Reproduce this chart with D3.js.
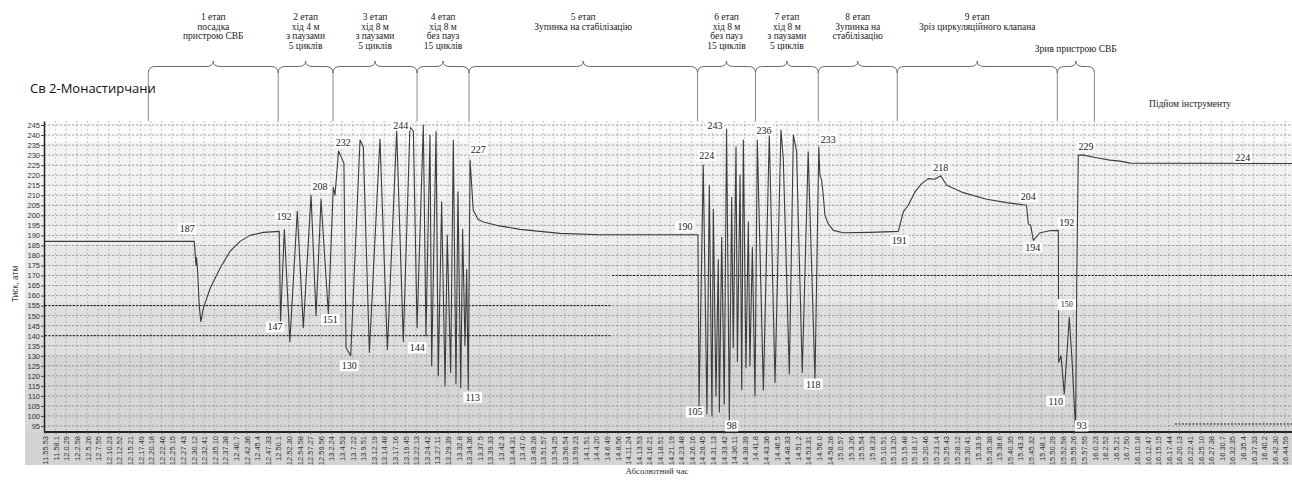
<!DOCTYPE html>
<html>
<head>
<meta charset="utf-8">
<script src="https://cdn.jsdelivr.net/npm/d3@7"></script>
<style>
  body { margin: 0; background: #fff; }
  svg { display: block; }
</style>
</head>
<body>
<svg id="chart" width="1292" height="481"></svg>
<script>
// time labels along the bottom (one per grid column)
const xLabels = [
  "11.55.53","11.58.1","12.0.29","12.2.58","12.5.26","12.7.55","12.10.23","12.12.52","12.15.21","12.17.49",
  "12.20.18","12.22.46","12.25.15","12.27.43","12.30.12","12.32.41","12.35.10","12.37.38","12.40.7","12.42.36",
  "12.45.4","12.47.33","12.50.1","12.52.30","12.54.58","12.57.27","12.59.56","13.2.24","13.4.53","13.7.22",
  "13.9.51","13.12.19","13.14.48","13.17.16","13.19.45","13.22.13","13.24.42","13.27.11","13.29.39","13.32.8",
  "13.34.36","13.37.5","13.39.33","13.42.3","13.44.31","13.47.0","13.49.28","13.51.57","13.54.25","13.56.54",
  "13.59.23","14.1.51","14.4.20","14.6.49","14.8.56","14.11.24","14.13.53","14.16.21","14.18.51","14.21.19",
  "14.23.48","14.26.16","14.28.45","14.31.13","14.33.42","14.36.11","14.38.39","14.41.8","14.43.36","14.46.5",
  "14.48.33","14.51.2","14.53.31","14.56.0","14.58.28","15.0.57","15.3.26","15.5.54","15.8.23","15.10.51",
  "15.13.20","15.15.48","15.18.17","15.20.46","15.23.14","15.25.43","15.28.12","15.30.41","15.33.9","15.35.38",
  "15.38.6","15.40.35","15.43.3","15.45.32","15.48.1","15.50.29","15.52.58","15.55.26","15.57.55","16.0.23",
  "16.2.52","16.5.21","16.7.50","16.10.18","16.12.47","16.15.15","16.17.44","16.20.13","16.22.41","16.25.10",
  "16.27.38","16.30.7","16.32.35","16.35.4","16.37.33","16.40.2","16.42.30","16.44.59"
];
const yTicks = [95,100,105,110,115,120,125,130,135,140,145,150,155,160,165,170,175,180,185,190,195,200,205,210,215,220,225,230,235,240,245];

// pressure trace, [column position, atm], stage by stage
const landing = [[0,187],[14.08,187],[14.25,175],[14.3,179],[14.4,172],[14.55,155],[14.7,147],[14.93,153.5],[15.57,163.5],[16.5,173.5],[17.45,182],[18.4,187],[19.34,190],[20.6,191.5],[22.1,192]];
const stroke4Pause = [[22.22,147],[22.58,193],[23.1,137],[23.8,202],[24.37,144],[25.1,210],[25.57,150],[26.04,208],[26.73,151],[27.2,214],[27.36,210],[27.69,232],[28.2,226]];
const stroke8Pause = [[28.4,134],[28.84,130],[29.72,237.5],[30.03,234],[30.6,131.7],[31.6,238],[32.3,133],[33.18,242],[33.8,137],[34.43,244],[34.75,242],[35.1,144]];
const stroke8NoPause = [[35.69,245],[35.94,140],[36.32,240],[36.48,125],[36.89,241.7],[37.1,120],[37.42,206.7],[37.74,115],[37.95,190],[38.27,121.7],[38.52,237.5],[38.77,116],[38.96,211.7],[39.22,114],[39.4,193],[39.62,135],[39.78,173],[39.93,113],[40.1,227.5]];
const stabilisation = [[40.4,202.5],[40.85,198],[41.35,196.7],[42.6,195],[44.8,193],[48.6,191],[52.36,190.3],[61.6,190.3]];
const stroke8NoPause2 = [[61.7,105],[62.1,225],[62.45,101],[62.67,215],[62.92,100],[63.05,203],[63.3,110],[63.52,178],[63.62,102],[63.84,189],[64.08,106],[64.3,243],[64.56,98],[64.78,209],[64.93,134],[65.19,234],[65.32,127],[65.57,220],[65.73,113],[65.88,237.5],[66.13,124],[66.35,196.7],[66.5,125],[66.73,184],[66.98,110]];
const stroke8Pause2 = [[67.2,237.5],[67.77,113],[68.33,240],[68.87,116.7],[69.43,242.5],[69.65,228],[70.22,121],[70.6,240],[70.9,232],[71.44,121.7],[72.0,231.7],[72.64,118],[73.0,234]];
const stabilisation2 = [[73.1,220],[73.27,217.5],[73.42,210],[73.58,200],[73.87,196],[74.37,192.5],[75.3,191.3],[77.8,191.5],[80.5,192]];
const valveCut = [[80.97,201.7],[81.44,205],[82.08,211.7],[82.7,215.8],[83.33,218.3],[83.96,218],[84.5,219.7],[85.07,215],[86.63,211.3],[88.84,208],[90.73,206.3],[92.6,205],[92.76,195.8],[92.99,195],[93.24,187.5],[93.87,191.3],[94.8,192.3],[95.6,192.5]];
const release = [[95.63,126.7],[95.85,130],[96.16,111],[96.63,149],[96.9,126.7],[97.23,93],[97.33,166],[97.48,230],[97.96,230],[99.21,228.7]];
const hoisting = [[100.47,227.5],[101.4,227],[102.4,226],[117.7,225.8]];

// value call-outs: text, column position, atm
const callouts = [
  ["187",13.42,193.4],["147",21.7,144.4],["192",22.55,199.6],["208",25.94,214.5],["151",26.9,148],
  ["232",28.14,236.3],["130",28.7,125],["244",33.56,245],["144",35.12,134],["113",40.35,109.3],
  ["227",40.88,233],["190",60.38,194.2],["224",62.42,229.7],["243",63.2,245],["105",61.32,102],
  ["98",64.78,95],["236",67.83,242.5],["118",72.48,115.9],["233",73.9,238],["191",80.6,187.4],
  ["218",84.5,223.9],["204",92.76,209.5],["194",93.18,184],["192",96.39,196.3],["110",95.35,107.4],
  ["150",96.39,155.5],["93",97.8,95],["229",98.2,234.2],["224",113,229]
];

// stage brackets
const stageBounds = [9.75, 22.0, 27.17, 35.1, 40.0, 61.56, 67.03, 72.95, 80.4, 95.5, 99.0];
const stageNames = [
  ["1 етап","посадка","пристрою СВБ"],
  ["2 етап","хід 4 м","з паузами","5 циклів"],
  ["3 етап","хід 8 м","з паузами","5 циклів"],
  ["4 етап","хід 8 м","без пауз","15 циклів"],
  ["5 етап","Зупинка на стабілізацію"],
  ["6 етап","хід 8 м","без пауз","15 циклів"],
  ["7 етап","хід 8 м","з паузами","5 циклів"],
  ["8 етап","Зупинка на","стабілізацію"],
  ["9 етап","Зріз циркуляційного клапана"],
  ["Зрив пристрою СВБ"]
];

const svg = d3.select("#chart");
const serif = "'Liberation Serif','Times New Roman',serif";
const sans = "'Liberation Sans',Arial,sans-serif";

const plotTop = 121, plotBottom = 432, plotLeft = 44;
const x = d3.scaleLinear().domain([0, 117]).range([45, 1285.2]);
const y = d3.scaleLinear().domain([92, 247]).range([plotBottom, plotTop]);

// background bands
const defs = svg.append("defs");
const grad = defs.append("linearGradient").attr("id", "bg").attr("x1", 0).attr("y1", 0).attr("x2", 0).attr("y2", 1);
[[0,"#fbfbfb"],[0.07,"#fbfbfb"],[0.07,"#f3f3f3"],[0.25,"#f3f3f3"],[0.25,"#eeeeee"],[0.4,"#eeeeee"],
 [0.4,"#e8e8e8"],[0.585,"#e8e8e8"],[0.585,"#dfdfdf"],[0.755,"#dfdfdf"],[0.755,"#d6d6d6"],[1,"#d6d6d6"]]
  .forEach(s => grad.append("stop").attr("offset", s[0]).attr("stop-color", s[1]));

svg.append("rect").attr("x", 25).attr("y", plotTop).attr("width", 1292 - 25).attr("height", plotBottom - plotTop).attr("fill", "url(#bg)");
svg.append("rect").attr("x", 25).attr("y", plotBottom).attr("width", 1292 - 25).attr("height", 465 - plotBottom).attr("fill", "#d3d3d3");

// grid
const grid = svg.append("g");
grid.selectAll("line.v").data(d3.range(1, xLabels.length)).join("line")
  .attr("x1", d => x(d)).attr("x2", d => x(d)).attr("y1", plotTop).attr("y2", plotBottom)
  .attr("stroke", "#8a8a8a").attr("stroke-width", 0.6).attr("stroke-dasharray", "1.5,2.5");
grid.selectAll("line.h").data(yTicks).join("line")
  .attr("x1", plotLeft).attr("x2", 1292).attr("y1", d => y(d)).attr("y2", d => y(d))
  .attr("stroke", "#6e6e6e").attr("stroke-width", 0.6).attr("stroke-dasharray", "2.5,1.5");

// darker grid pieces left from the stitched source images
const darkGrid = [[155, 0, 53.5], [140, 0, 53.5], [170, 53.5, 117.7], [96, 106.6, 117.7]];
grid.selectAll("line.d").data(darkGrid).join("line")
  .attr("x1", d => x(d[1])).attr("x2", d => x(d[2])).attr("y1", d => y(d[0])).attr("y2", d => y(d[0]))
  .attr("stroke", "#111").attr("stroke-width", 1).attr("stroke-dasharray", "2,1.5");

// axes
const yAxis = svg.append("g").attr("transform", `translate(${plotLeft},0)`)
  .call(d3.axisLeft(y).tickValues(yTicks).tickSize(3).tickSizeOuter(0));
yAxis.select(".domain").attr("stroke", "#222").attr("stroke-width", 1.5);
yAxis.selectAll("line").attr("stroke", "#444");
yAxis.selectAll("text").attr("font-family", sans).attr("font-size", 7.5).attr("fill", "#333").attr("x", -4);

const xAxis = svg.append("g").attr("transform", `translate(0,${plotBottom})`)
  .call(d3.axisBottom(x).tickValues(d3.range(xLabels.length)).tickFormat(i => xLabels[i]).tickSize(2).tickSizeOuter(0));
xAxis.select(".domain").attr("stroke", "#222").attr("stroke-width", 2).attr("d", `M${plotLeft},0H1292`);
xAxis.selectAll("line").attr("stroke", "#555");
xAxis.selectAll("text")
  .attr("font-family", sans).attr("font-size", 7.5).attr("fill", "#333")
  .attr("transform", "rotate(-90)").attr("text-anchor", "end")
  .attr("x", -4).attr("y", 0).attr("dy", "0.35em");

// pressure line
const trace = [].concat(landing, stroke4Pause, stroke8Pause, stroke8NoPause, stabilisation,
  stroke8NoPause2, stroke8Pause2, stabilisation2, valveCut, release, hoisting);
svg.append("path").datum(trace)
  .attr("d", d3.line().x(d => x(d[0])).y(d => y(d[1])))
  .attr("fill", "none").attr("stroke", "#3c3c3c").attr("stroke-width", 1.1).attr("stroke-linejoin", "round");

// call-outs
const co = svg.append("g").selectAll("g").data(callouts).join("g")
  .attr("transform", d => `translate(${x(d[1])},${y(d[2])})`);
co.append("rect").attr("x", d => -d[0].length * 2.6 - 1.5).attr("y", -5.5)
  .attr("width", d => d[0].length * 5.2 + 3).attr("height", 11).attr("fill", "#fff");
co.append("text").text(d => d[0]).attr("text-anchor", "middle").attr("dy", "0.35em")
  .attr("font-family", serif).attr("font-size", d => d[0] === "150" ? 8 : 10).attr("fill", "#222");

// stage braces
const braceY = 66.5;
const stages = stageNames.map((names, i) => ({ names, x0: x(stageBounds[i]), x1: x(stageBounds[i + 1]) }));
svg.append("g").selectAll("path").data(stages).join("path")
  .attr("d", s => {
    const m = (s.x0 + s.x1) / 2;
    return `M${s.x0},73 Q${s.x0},${braceY} ${s.x0 + 7},${braceY} L${m - 7},${braceY} Q${m},${braceY} ${m},${braceY - 5.5}` +
           ` Q${m},${braceY} ${m + 7},${braceY} L${s.x1 - 7},${braceY} Q${s.x1},${braceY} ${s.x1},73`;
  })
  .attr("fill", "none").attr("stroke", "#6a6a6a").attr("stroke-width", 1);
svg.append("g").selectAll("line").data(stageBounds).join("line")
  .attr("x1", d => x(d)).attr("x2", d => x(d)).attr("y1", 72).attr("y2", plotTop)
  .attr("stroke", "#8a8a8a").attr("stroke-width", 1);

const st = svg.append("g").selectAll("text").data(stages).join("text")
  .attr("font-family", serif).attr("font-size", 9.5).attr("fill", "#222").attr("text-anchor", "middle");
st.each(function (s, i) {
  const m = (s.x0 + s.x1) / 2;
  const y0 = i === stages.length - 1 ? 52 : 20;
  d3.select(this).selectAll("tspan").data(s.names).join("tspan")
    .attr("x", m).attr("y", (d, k) => y0 + k * 9.7).text(d => d);
});

svg.append("text").attr("x", 1190).attr("y", 107).attr("text-anchor", "middle")
  .attr("font-family", serif).attr("font-size", 9.5).attr("fill", "#222").text("Підйом інструменту");

// titles
svg.append("text").attr("x", 30).attr("y", 93)
  .attr("font-family", "'Open Sans','Noto Sans',sans-serif").attr("font-size", 13).attr("fill", "#111")
  .text("Св 2-Монастирчани");
svg.append("text").attr("transform", "translate(18,284) rotate(-90)").attr("text-anchor", "middle")
  .attr("font-family", sans).attr("font-size", 8.5).attr("fill", "#444").text("Тиск, атм");
svg.append("text").attr("x", 657).attr("y", 474).attr("text-anchor", "middle")
  .attr("font-family", serif).attr("font-size", 9).attr("fill", "#333").text("Абсолютний час");
</script>
</body>
</html>
